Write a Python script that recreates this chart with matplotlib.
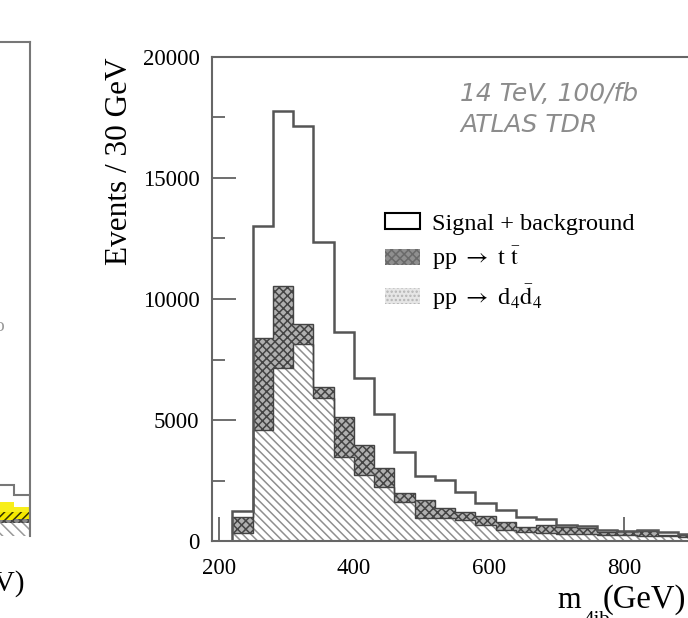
import numpy as np
import matplotlib
matplotlib.use('Agg')
import matplotlib.pyplot as plt
from matplotlib.patches import Patch

plt.rcParams['font.family'] = ['Liberation Serif', 'DejaVu Serif']
plt.rcParams['mathtext.fontset'] = 'stix'
plt.rcParams['hatch.linewidth'] = 1.1

# m_4jb histogram, 30 GeV bins starting at 220 GeV
edges = np.arange(220, 220 + 30 * 26, 30)
# outer outline: signal + background
total = [1260, 13000, 17750, 17150, 12350, 8650, 6750, 5230, 3690, 2690,
         2520, 2040, 1590, 1290, 980, 900, 660, 630, 455, 430,
         455, 385, 290, 250, 200]
# top of the pp -> t tbar layer (stacked on d4 d4bar)
ttbar_top = [980, 8390, 10540, 8970, 6350, 5140, 3970, 3000, 2000, 1690,
             1350, 1210, 1030, 800, 590, 660, 560, 540, 390, 430,
             430, 250, 250, 200, 170]
# pp -> d4 d4bar
d4 = [320, 4590, 7140, 8140, 5900, 3490, 2730, 2250, 1630, 940,
      950, 870, 660, 460, 390, 320, 290, 270, 250, 230,
      210, 190, 170, 150, 130]

# the neighbouring panel (only its right end shows)
left_edges = [880, 920, 960, 1000]
left_total = [51, 51, 41]
left_yellow = [34, 34, 29]
left_yhatch = [24, 24, 24]
left_dark = [16, 16, 17]
left_light = [13, 13, 13]

W, H = 688, 618
fig = plt.figure(figsize=(W / 100, H / 100), dpi=100)

# ---- left (cut off) panel
axl = fig.add_axes([-370 / W, (H - 536) / H, 400 / W, 494 / H])
axl.set_xlim(0, 1000)
axl.set_ylim(0, 494)
axl.stairs(left_light, left_edges, fill=True, facecolor='white',
           edgecolor='#999999', hatch='\\\\\\', lw=0)
axl.stairs(left_dark, left_edges, baseline=left_light, fill=True,
           facecolor='#888888', edgecolor='#444444', hatch='xxxx', lw=0)
axl.stairs(left_yhatch, left_edges, baseline=left_dark, fill=True,
           facecolor='#f5e800', edgecolor='#333300', hatch='////', lw=0)
axl.stairs(left_yellow, left_edges, baseline=left_yhatch, fill=True,
           facecolor='#f8ee1a', lw=0)
axl.stairs(left_total, left_edges, color='#777777', lw=1.5)
for s in ['left', 'bottom']:
    axl.spines[s].set_visible(False)
for s in ['right', 'top']:
    axl.spines[s].set_color('#777777')
    axl.spines[s].set_linewidth(1.5)
axl.set_xticks([])
axl.set_yticks([])
fig.text(25 / W, 1 - 591 / H, '(GeV)', ha='right', va='baseline', fontsize=21)
fig.text(4 / W, 1 - 331 / H, 'o', ha='right', va='baseline', fontsize=14,
         color='#999999')

# ---- main panel
ax = fig.add_axes([212 / W, (H - 541) / H, 546.75 / W, 484 / H])
ax.set_axisbelow(True)
ax.stairs(d4, edges, fill=True, facecolor='white', edgecolor='#8f8f8f',
          hatch='\\\\\\\\', lw=0)
ax.stairs(ttbar_top, edges, baseline=d4, fill=True, facecolor='#b0b0b0',
          edgecolor='#444444', hatch='xxxx', lw=1.0)
ax.stairs(total, edges, color='#555555', lw=1.8)

ax.set_xlim(190, 1000)
ax.set_ylim(0, 20000)
ax.set_xticks([200, 400, 600, 800])
ax.set_yticks([0, 5000, 10000, 15000, 20000])
ax.set_yticks(np.arange(0, 20001, 2500), minor=True)
ax.tick_params(direction='in', length=17, width=1.2, color='#555555',
               labelsize=16.5, pad=9)
ax.tick_params(axis='x', pad=12)
ax.tick_params(axis='y', which='minor', direction='in', length=9.5,
               width=1.2, color='#555555')
for s in ax.spines.values():
    s.set_color('#666666')
    s.set_linewidth(1.5)

ax.set_ylabel('Events / 30 GeV', fontsize=22.5, loc='top', labelpad=6)
# x label "m_4jb(GeV)", cut by the lower and right edges as in the source
fig.text(557 / W, 1 - 608 / H, 'm', ha='left', va='baseline', fontsize=22)
fig.text(584 / W, 1 - 625 / H, '4jb', ha='left', va='baseline', fontsize=15)
fig.text(603 / W, 1 - 608 / H, '(GeV)', ha='left', va='baseline',
         fontsize=23.5)

fig.text(460 / W, 1 - 101 / H, '14 TeV, 100/fb', family='DejaVu Sans',
         style='oblique', fontsize=18, color='#8c8c8c')
fig.text(460 / W, 1 - 132 / H, 'ATLAS TDR', family='DejaVu Sans',
         style='oblique', fontsize=18, color='#8c8c8c')

handles = [
    Patch(facecolor='white', edgecolor='black', lw=1.5),
    Patch(facecolor='#8f8f8f', edgecolor='#6a6a6a', hatch='xxxx', lw=0),
    Patch(facecolor='#e6e6e6', edgecolor='#b5b5b5', hatch='....', lw=0),
]
labels = ['Signal + background', r'pp $\rightarrow$ t $\bar{\mathrm{t}}$',
          r'pp $\rightarrow$ d$_4\bar{\mathrm{d}}_4$']
ax.legend(handles, labels, loc='upper left',
          bbox_to_anchor=(385 / W, 1 - 213 / H),
          bbox_transform=fig.transFigure, frameon=False, fontsize=17.5,
          handlelength=1.45, handleheight=0.65, handletextpad=0.5,
          labelspacing=0.4, borderpad=0, borderaxespad=0)

fig.savefig('out.png', dpi=100)
